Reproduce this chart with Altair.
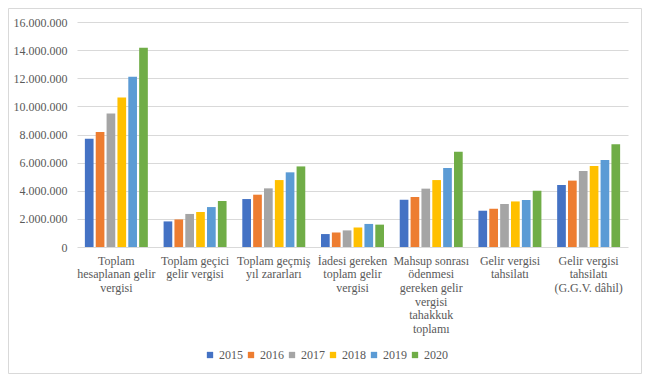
import json
import altair as alt
import pandas as pd

categories = [
    "Toplam hesaplanan gelir vergisi",
    "Toplam geçici gelir vergisi",
    "Toplam geçmiş yıl zararları",
    "İadesi gereken toplam gelir vergisi",
    "Mahsup sonrası ödenmesi gereken gelir vergisi tahakkuk toplamı",
    "Gelir vergisi tahsilatı",
    "Gelir vergisi tahsilatı (G.G.V. dâhil)",
]
label_lines = [
    ["Toplam", "hesaplanan gelir", "vergisi"],
    ["Toplam geçici", "gelir vergisi"],
    ["Toplam geçmiş", "yıl zararları"],
    ["İadesi gereken", "toplam gelir", "vergisi"],
    ["Mahsup sonrası", "ödenmesi", "gereken gelir", "vergisi", "tahakkuk", "toplamı"],
    ["Gelir vergisi", "tahsilatı"],
    ["Gelir vergisi", "tahsilatı", "(G.G.V. dâhil)"],
]
years = ["2015", "2016", "2017", "2018", "2019", "2020"]
colors = ["#4472C4", "#ED7D31", "#A5A5A5", "#FFC000", "#5B9BD5", "#70AD47"]

v2015 = [7700000, 1820000, 3410000, 920000, 3360000, 2580000, 4410000]
v2016 = [8180000, 1960000, 3720000, 1040000, 3560000, 2720000, 4720000]
v2017 = [9500000, 2350000, 4170000, 1180000, 4150000, 3060000, 5410000]
v2018 = [10640000, 2490000, 4760000, 1390000, 4760000, 3240000, 5760000]
v2019 = [12110000, 2840000, 5310000, 1640000, 5620000, 3340000, 6190000]
v2020 = [14170000, 3270000, 5730000, 1590000, 6780000, 4000000, 7300000]
series = [v2015, v2016, v2017, v2018, v2019, v2020]

rows = []
for y, vals in zip(years, series):
    for c, v in zip(categories, vals):
        rows.append({"cat": c, "year": y, "value": v})
df = pd.DataFrame(rows)

label_map = json.dumps(dict(zip(categories, label_lines)), ensure_ascii=False)

FONT = "Liberation Serif"
text_color = "#595959"
grid_color = "#D9D9D9"

bars = alt.Chart(df).mark_bar().encode(
    x=alt.X(
        "cat:N",
        sort=categories,
        scale=alt.Scale(paddingInner=0.2, paddingOuter=0.1),
        axis=alt.Axis(
            title=None,
            labelAngle=0,
            labelExpr=f"{label_map}[datum.value]",
            labelFont=FONT,
            labelFontSize=12,
            labelLineHeight=13.7,
            labelColor=text_color,
            labelPadding=8,
            labelBaseline="top",
            labelAlign="center",
            ticks=False,
            domain=False,
            labelLimit=0,
        ),
    ),
    xOffset=alt.XOffset("year:N", sort=years, scale=alt.Scale(paddingInner=0.2)),
    y=alt.Y(
        "value:Q",
        scale=alt.Scale(domain=[0, 16000000]),
        axis=alt.Axis(
            title=None,
            values=[0, 2000000, 4000000, 6000000, 8000000, 10000000, 12000000, 14000000, 16000000],
            labelExpr="replace(replace(format(datum.value, ','), ',', '.'), ',', '.')",
            labelFont=FONT,
            labelFontSize=12,
            labelColor=text_color,
            labelPadding=10,
            ticks=False,
            domain=False,
            gridColor=grid_color,
            gridWidth=1,
        ),
    ),
    color=alt.Color(
        "year:N",
        sort=years,
        scale=alt.Scale(domain=years, range=colors),
        legend=alt.Legend(
            title=None,
            orient="none",
            direction="horizontal",
            legendX=127,
            legendY=327,
            symbolType="square",
            symbolSize=40,
            symbolStrokeWidth=0,
            labelFont=FONT,
            labelFontSize=12,
            labelColor=text_color,
            labelOffset=3,
            columnPadding=2,
        ),
    ),
)

border = alt.Chart(alt.Data(values=[{"a": 1}])).mark_rect(
    fill=None, stroke=grid_color, strokeWidth=1
).encode(
    x=alt.value(-68.5), x2=alt.value(564.5), y=alt.value(-13.5), y2=alt.value(351.5)
)

chart = alt.layer(border, bars).properties(
    width=551,
    height=225,
    autosize="none",
    padding={"left": 69, "top": 14, "right": 14, "bottom": 127},
).configure(
    font=FONT,
).configure_view(stroke=None)

chart.save("out.html", embed_options={"renderer": "svg", "actions": False})
